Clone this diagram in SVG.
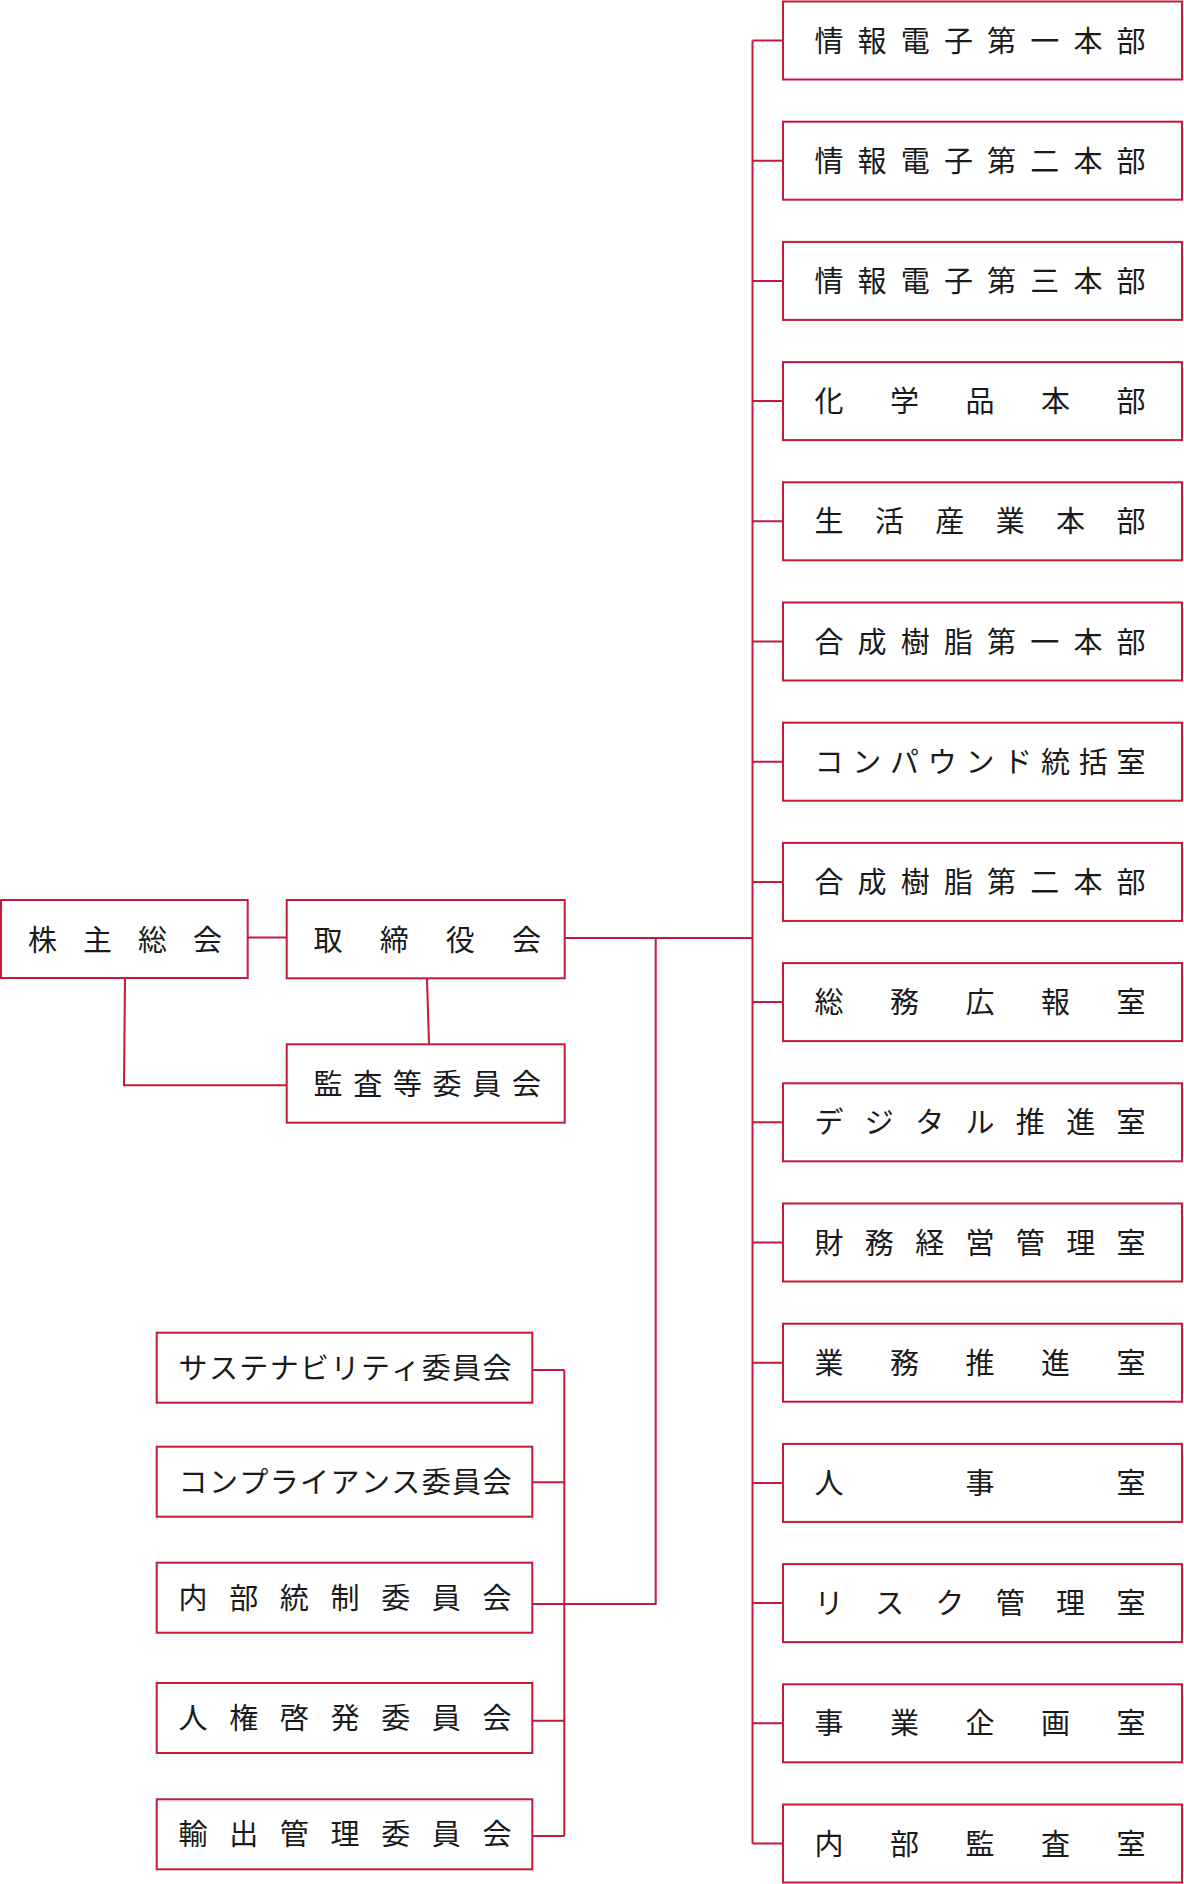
<svg xmlns="http://www.w3.org/2000/svg" width="1184" height="1884" viewBox="0 0 1184 1884">
<style>
.box{fill:#ffffff;stroke:#c41a3c;stroke-width:2}
.ln{fill:none;stroke:#c41a3c;stroke-width:2}
text{font-family:"Noto Sans CJK JP","Noto Sans CJK SC",sans-serif;font-size:29px;fill:#1a1a1a}
</style>
<rect width="1184" height="1884" fill="#ffffff"/>
<g id="connectors">
<path class="ln" d="M248 937.5H286"/>
<path class="ln" d="M427 979L429 1044"/>
<path class="ln" d="M125 979L124 1085.3H286"/>
<path class="ln" d="M565 938H752.5"/>
<path class="ln" d="M752.5 40.5V1843.5"/>
<path class="ln" d="M752.5 40.5H783M752.5 160.7H783M752.5 280.9H783M752.5 401.1H783M752.5 521.3H783M752.5 641.5H783M752.5 761.7H783M752.5 881.9H783M752.5 1002.1H783M752.5 1122.3H783M752.5 1242.5H783M752.5 1362.7H783M752.5 1482.9H783M752.5 1603.1H783M752.5 1723.3H783M752.5 1843.5H783"/>
<path class="ln" d="M655.7 938V1604H533"/>
<path class="ln" d="M564.3 1370V1836"/>
<path class="ln" d="M533 1370H564.3M533 1482.3H564.3M533 1720.7H564.3M533 1836H564.3"/>
</g>
<g id="n-kabunushi"><rect class="box" x="1" y="900" width="246.7" height="78"/><text x="28 83 138 193" y="951">株主総会</text></g>
<g id="n-torishimariyaku"><rect class="box" x="286.7" y="900" width="278" height="78.3"/><text x="313.5 379.7 445.8 512" y="951">取締役会</text></g>
<g id="n-kansa"><rect class="box" x="286.7" y="1044.3" width="278" height="78.4"/><text x="313.5 353.2 392.9 432.6 472.3 512" y="1094.5">監査等委員会</text></g>

<g id="n-r0"><rect class="box" x="783" y="1.5" width="399" height="78"/><text x="814.5 857.6 900.8 943.9 987.1 1030.2 1073.4 1116.5" y="51.5">情報電子第一本部</text></g>
<g id="n-r1"><rect class="box" x="783" y="121.7" width="399" height="78"/><text x="814.5 857.6 900.8 943.9 987.1 1030.2 1073.4 1116.5" y="171.7">情報電子第二本部</text></g>
<g id="n-r2"><rect class="box" x="783" y="241.9" width="399" height="78"/><text x="814.5 857.6 900.8 943.9 987.1 1030.2 1073.4 1116.5" y="291.9">情報電子第三本部</text></g>
<g id="n-r3"><rect class="box" x="783" y="362.1" width="399" height="78"/><text x="814.5 890 965.5 1041 1116.5" y="412.1">化学品本部</text></g>
<g id="n-r4"><rect class="box" x="783" y="482.3" width="399" height="78"/><text x="814.5 874.9 935.3 995.7 1056.1 1116.5" y="532.3">生活産業本部</text></g>
<g id="n-r5"><rect class="box" x="783" y="602.5" width="399" height="78"/><text x="814.5 857.6 900.8 943.9 987.1 1030.2 1073.4 1116.5" y="652.5">合成樹脂第一本部</text></g>
<g id="n-r6"><rect class="box" x="783" y="722.7" width="399" height="78"/><text x="814.5 852.25 890 927.75 965.5 1003.25 1041 1078.75 1116.5" y="772.7">コンパウンド統括室</text></g>
<g id="n-r7"><rect class="box" x="783" y="842.9" width="399" height="78"/><text x="814.5 857.6 900.8 943.9 987.1 1030.2 1073.4 1116.5" y="892.9">合成樹脂第二本部</text></g>
<g id="n-r8"><rect class="box" x="783" y="963.1" width="399" height="78"/><text x="814.5 890 965.5 1041 1116.5" y="1013.1">総務広報室</text></g>
<g id="n-r9"><rect class="box" x="783" y="1083.3" width="399" height="78"/><text x="814.5 864.8 915.2 965.5 1015.8 1066.2 1116.5" y="1133.3">デジタル推進室</text></g>
<g id="n-r10"><rect class="box" x="783" y="1203.5" width="399" height="78"/><text x="814.5 864.8 915.2 965.5 1015.8 1066.2 1116.5" y="1253.5">財務経営管理室</text></g>
<g id="n-r11"><rect class="box" x="783" y="1323.7" width="399" height="78"/><text x="814.5 890 965.5 1041 1116.5" y="1373.7">業務推進室</text></g>
<g id="n-r12"><rect class="box" x="783" y="1443.9" width="399" height="78"/><text x="814.5 965.5 1116.5" y="1493.9">人事室</text></g>
<g id="n-r13"><rect class="box" x="783" y="1564.1" width="399" height="78"/><text x="814.5 874.9 935.3 995.7 1056.1 1116.5" y="1614.1">リスク管理室</text></g>
<g id="n-r14"><rect class="box" x="783" y="1684.3" width="399" height="78"/><text x="814.5 890 965.5 1041 1116.5" y="1734.3">事業企画室</text></g>
<g id="n-r15"><rect class="box" x="783" y="1804.5" width="399" height="78"/><text x="814.5 890 965.5 1041 1116.5" y="1854.5">内部監査室</text></g>

<g id="n-c0"><rect class="box" x="156.7" y="1332.7" width="375.6" height="70"/><text x="178.5 208.9 239.3 269.7 300.1 330.5 360.9 391.3 421.7 452.1 482.5" y="1378.7">サステナビリティ委員会</text></g>
<g id="n-c1"><rect class="box" x="156.7" y="1446.7" width="375.6" height="70"/><text x="178.5 208.9 239.3 269.7 300.1 330.5 360.9 391.3 421.7 452.1 482.5" y="1492.7">コンプライアンス委員会</text></g>
<g id="n-c2"><rect class="box" x="156.7" y="1562.7" width="375.6" height="70"/><text x="178.5 229.2 279.8 330.5 381.2 431.8 482.5" y="1608.7">内部統制委員会</text></g>
<g id="n-c3"><rect class="box" x="156.7" y="1683" width="375.6" height="70"/><text x="178.5 229.2 279.8 330.5 381.2 431.8 482.5" y="1729">人権啓発委員会</text></g>
<g id="n-c4"><rect class="box" x="156.7" y="1799.3" width="375.6" height="70"/><text x="178.5 229.2 279.8 330.5 381.2 431.8 482.5" y="1845.3">輸出管理委員会</text></g>
</svg>
